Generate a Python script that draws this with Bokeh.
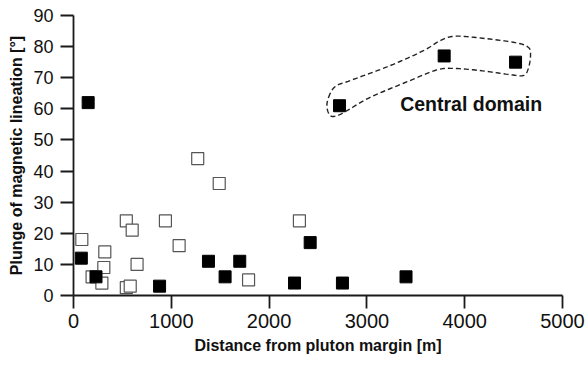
import numpy as np
from bokeh.plotting import figure
from bokeh.models import FixedTicker, Label, Range1d
from bokeh.embed import file_html
from bokeh.resources import INLINE

# ---- data ----
filled_x = [80, 150, 230, 880, 1380, 1550, 1700, 2260, 2420, 2750, 3400, 2720, 3790, 4520]
filled_y = [12, 62, 6, 3, 11, 6, 11, 4, 17, 4, 6, 61, 77, 75]

open_x = [85, 190, 320, 310, 290, 540, 600, 650, 540, 580, 940, 1080, 1270, 1490, 1790, 2310]
open_y = [18, 6, 14, 9, 4, 24, 21, 10, 2.5, 3, 24, 16, 44, 36, 5, 24]

x_ticks = [0, 1000, 2000, 3000, 4000, 5000]
y_ticks = [0, 10, 20, 30, 40, 50, 60, 70, 80, 90]

# outline of the "Central domain" group (annotation)
outline_x = [2608, 2677, 2830, 3238, 3578, 3748, 3884, 4088, 4496, 4649, 4673, 4649,
             4598, 4462, 4156, 3884, 3714, 3442, 3034, 2796, 2694, 2626, 2592]
outline_y = [63.7, 67.2, 69.1, 73.9, 78.7, 81.9, 83.3, 83.0, 81.4, 79.8, 77.1, 72.8,
             70.7, 71.0, 72.3, 73.0, 72.5, 69.1, 63.7, 59.4, 57.8, 57.8, 60.5]


def closed_catmull_rom(xs, ys, n=12):
    P = np.column_stack([xs, ys]).astype(float)
    m = len(P)
    out = []
    for i in range(m):
        p0, p1, p2, p3 = P[(i - 1) % m], P[i], P[(i + 1) % m], P[(i + 2) % m]
        for t in np.linspace(0, 1, n, endpoint=False):
            t2, t3 = t * t, t * t * t
            pt = 0.5 * ((2 * p1) + (-p0 + p2) * t + (2 * p0 - 5 * p1 + 4 * p2 - p3) * t2
                        + (-p0 + 3 * p1 - 3 * p2 + p3) * t3)
            out.append(pt)
    out.append(out[0])
    out = np.array(out)
    return out[:, 0], out[:, 1]


p = figure(width=588, height=365, output_backend="svg", toolbar_location=None,
           x_range=Range1d(0, 5000), y_range=Range1d(0, 90),
           min_border_left=73, min_border_right=26, min_border_top=15, min_border_bottom=70)

p.xgrid.visible = False
p.ygrid.visible = False
p.outline_line_color = None
p.background_fill_color = "white"
p.border_fill_color = "white"

for ax in (p.xaxis[0], p.yaxis[0]):
    ax.axis_line_color = "#1a1a1a"
    ax.axis_line_width = 1.8
    ax.major_tick_line_color = "#1a1a1a"
    ax.major_tick_line_width = 1.8
    ax.major_tick_out = 13
    ax.major_tick_in = 0
    ax.minor_tick_out = 0
    ax.minor_tick_in = 0
    ax.major_label_text_font = "Liberation Sans"
    ax.major_label_text_color = "#111111"
    ax.axis_label_text_font = "Liberation Sans"
    ax.axis_label_text_font_style = "bold"
    ax.axis_label_text_font_size = "16px"
    ax.axis_label_text_color = "#111111"

p.xaxis.ticker = FixedTicker(ticks=x_ticks)
p.yaxis.ticker = FixedTicker(ticks=y_ticks)
p.xaxis.major_label_text_font_size = "20px"
p.yaxis.major_label_text_font_size = "18px"
p.xaxis.major_label_standoff = 5
p.yaxis.major_label_standoff = 7
p.xaxis.axis_label = "Distance from pluton margin [m]"
p.yaxis.axis_label = "Plunge of magnetic lineation [°]"
p.xaxis.axis_label_standoff = 6
p.yaxis.axis_label_standoff = 5

p.scatter(open_x, open_y, marker="square", size=12, fill_color="white",
          line_color="#555555", line_width=1.2)
p.scatter(filled_x, filled_y, marker="square", size=12, fill_color="black",
          line_color="black", line_width=1)

ox, oy = closed_catmull_rom(outline_x, outline_y)
p.line(ox, oy, line_color="#222222", line_width=1.4, line_dash="5 3")

p.add_layout(Label(x=3340, y=61.5, text="Central domain", text_font="Liberation Sans",
                   text_font_style="bold", text_font_size="19.5px", text_color="#111111",
                   text_baseline="middle", text_align="left"))

open("out.html", "w").write(file_html(p, INLINE))
